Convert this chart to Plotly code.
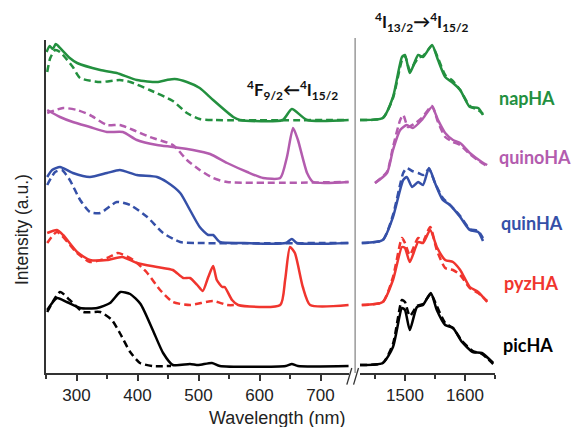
import plotly.graph_objects as go

# ---------------- data (intensity above each trace's own baseline, a.u.) -------------
series_names = ["picHA", "pyzHA", "quinHA", "quinoHA", "napHA"]
series_colors = ["#000000", "#f0352e", "#3550a8", "#b35cae", "#23903f"]
offsets = [7, 68, 130, 191, 253]

# visible-range excitation spectra (solid) and absorption (dashed)
nap_vis_wl = [251, 256, 261, 266, 270, 289, 301, 339, 366, 399, 432, 448, 461, 481, 502, 524, 557, 568, 638, 653, 678, 746]
nap_vis_I = [68, 74, 71, 76, 74, 62, 57, 50, 47, 40, 38, 40, 41, 38, 32, 20, 3, 0, 0, 11, 0, 0]
nap_vis_d_wl = [252, 257, 265, 273, 294, 306, 339, 371, 388, 420, 458, 481, 502, 527, 746]
nap_vis_d_I = [48, 62, 70, 68, 53, 42, 38, 40, 38, 30, 19, 7, 1, 0, 0]

quino_vis_wl = [252, 273, 294, 322, 350, 376, 399, 432, 458, 491, 519, 547, 580, 606, 634, 645, 655, 663, 678, 688, 746]
quino_vis_I = [72, 65, 60, 55, 50, 50, 42, 37, 35, 32, 28, 19, 10, 4, 4, 25, 54, 42, 9, 0, 0]
quino_vis_d_wl = [252, 278, 301, 322, 350, 371, 393, 420, 458, 481, 502, 524, 547, 746]
quino_vis_d_I = [69, 74, 72, 67, 57, 57, 52, 45, 37, 22, 12, 4, 0, 0]

quin_vis_wl = [252, 260, 273, 294, 322, 350, 371, 399, 432, 448, 470, 486, 502, 516, 524, 535, 568, 643, 653, 661, 746]
quin_vis_I = [66, 73, 76, 70, 66, 70, 73, 68, 66, 61, 50, 33, 16, 8, 8, 1, 0, 0, 4, 0, 0]
quin_vis_d_wl = [252, 265, 276, 289, 306, 322, 339, 366, 388, 416, 442, 470, 498, 746]
quin_vis_d_I = [58, 71, 73, 63, 43, 31, 30, 41, 38, 26, 10, 1, 0, 0]

pyz_vis_wl = [252, 268, 278, 301, 322, 350, 375, 399, 432, 458, 475, 486, 498, 507, 516, 524, 530, 539, 543, 555, 565, 634, 642, 650, 658, 671, 683, 746]
pyz_vis_I = [72, 75, 70, 53, 45, 45, 48, 42, 38, 35, 27, 27, 20, 14, 28, 39, 25, 18, 18, 5, 0, 0, 25, 58, 52, 18, 0, 0]
pyz_vis_d_wl = [252, 268, 301, 322, 350, 368, 393, 416, 437, 458, 486, 524, 547, 562]
pyz_vis_d_I = [62, 73, 52, 43, 47, 52, 45, 32, 15, 3, 0, 4, 0, 0]

pic_vis_wl = [252, 268, 284, 306, 334, 355, 372, 388, 405, 425, 442, 458, 486, 500, 522, 535, 643, 653, 663, 746]
pic_vis_I = [56, 68, 64, 58, 58, 63, 74, 72, 62, 36, 13, 1, 2, 1, 3, 0, 0, 2, 0, 0]
pic_vis_d_wl = [252, 273, 289, 311, 339, 358, 371, 388, 404, 425, 455]
pic_vis_d_I = [54, 74, 66, 54, 54, 46, 33, 14, 3, 0, 0]

# NIR emission 4I13/2 -> 4I15/2 (solid and dashed)
nap_nir_wl = [1425, 1463, 1480, 1495, 1500, 1508, 1522, 1530, 1545, 1555, 1567, 1578, 1592, 1608, 1622, 1630]
nap_nir_I = [0, 2, 23, 63, 65, 47, 65, 63, 75, 60, 43, 38, 30, 13, 12, 5]
nap_nir_d_I = [0, 2, 22, 60, 64, 50, 62, 64, 74, 62, 45, 40, 30, 14, 10, 6]

quino_nir_wl = [1450, 1470, 1480, 1492, 1503, 1513, 1528, 1545, 1555, 1567, 1580, 1592, 1608, 1628, 1637]
quino_nir_I = [-1, 9, 32, 52, 57, 54, 62, 75, 62, 49, 42, 39, 29, 20, 17]
quino_nir_d_wl = [1450, 1470, 1480, 1492, 1497, 1505, 1515, 1528, 1545, 1555, 1567, 1580, 1592, 1608, 1628, 1637]
quino_nir_d_I = [-1, 10, 35, 62, 67, 55, 58, 64, 76, 60, 45, 40, 37, 28, 19, 16]

quin_nir_wl = [1428, 1463, 1480, 1497, 1503, 1512, 1522, 1530, 1540, 1550, 1563, 1575, 1592, 1608, 1622, 1630]
quin_nir_I = [0, 3, 26, 63, 66, 56, 61, 58, 75, 60, 43, 38, 26, 13, 11, 2]
quin_nir_d_I = [0, 3, 28, 70, 75, 72, 70, 68, 74, 60, 45, 38, 27, 14, 12, 5]

pyz_nir_wl = [1428, 1463, 1480, 1495, 1500, 1508, 1522, 1530, 1542, 1553, 1567, 1580, 1592, 1608, 1622, 1637]
pyz_nir_I = [0, 3, 25, 58, 57, 43, 63, 62, 75, 58, 45, 43, 35, 18, 13, 3]
pyz_nir_d_I = [0, 3, 28, 67, 62, 50, 67, 64, 78, 55, 37, 35, 30, 17, 12, 4]

pic_nir_wl = [1425, 1463, 1480, 1495, 1500, 1508, 1520, 1530, 1543, 1553, 1567, 1580, 1595, 1613, 1628, 1647]
pic_nir_I = [1, 3, 19, 58, 56, 36, 59, 61, 73, 56, 41, 38, 24, 14, 13, 3]
pic_nir_d_I = [1, 3, 22, 66, 64, 50, 60, 62, 72, 60, 43, 38, 25, 15, 12, 2]

vis_ticks = [300, 400, 500, 600, 700]
nir_ticks = [1500, 1600]

vis_solid = [(pic_vis_wl, pic_vis_I), (pyz_vis_wl, pyz_vis_I), (quin_vis_wl, quin_vis_I),
             (quino_vis_wl, quino_vis_I), (nap_vis_wl, nap_vis_I)]
vis_dash = [(pic_vis_d_wl, pic_vis_d_I), (pyz_vis_d_wl, pyz_vis_d_I), (quin_vis_d_wl, quin_vis_d_I),
            (quino_vis_d_wl, quino_vis_d_I), (nap_vis_d_wl, nap_vis_d_I)]
nir_solid = [(pic_nir_wl, pic_nir_I), (pyz_nir_wl, pyz_nir_I), (quin_nir_wl, quin_nir_I),
             (quino_nir_wl, quino_nir_I), (nap_nir_wl, nap_nir_I)]
nir_dash = [(pic_nir_wl, pic_nir_d_I), (pyz_nir_wl, pyz_nir_d_I), (quin_nir_wl, quin_nir_d_I),
            (quino_nir_d_wl, quino_nir_d_I), (nap_nir_wl, nap_nir_d_I)]

fig = go.Figure()
LW = 2.5
for i, name in enumerate(series_names):
    c = series_colors[i]
    off = offsets[i]
    for (wl, I), dash, xa in [(vis_dash[i], "7px,4px", "x"), (vis_solid[i], "solid", "x"),
                              (nir_dash[i], "7px,4px", "x2"), (nir_solid[i], "solid", "x2")]:
        fig.add_trace(go.Scatter(
            x=wl, y=[v + off for v in I], xaxis=xa, yaxis="y", mode="lines",
            line=dict(color=c, width=LW, dash=dash, shape="spline", smoothing=0.6),
            showlegend=False, hoverinfo="skip"))

sans = "Liberation Sans, Arial, sans-serif"
tick_font = dict(family=sans, size=17, color="#222")
axis_common = dict(showline=True, linecolor="#333", linewidth=1.5, ticks="outside",
                   ticklen=6, tickwidth=1.5, tickcolor="#333", showgrid=False, zeroline=False,
                   tickfont=tick_font, minor=dict(dtick=50, ticks="outside", ticklen=4,
                                                   tickwidth=1.5, tickcolor="#333"))
fig.update_layout(
    width=573, height=427,
    margin=dict(l=46, r=78, t=40, b=54),
    paper_bgcolor="white", plot_bgcolor="white",
    xaxis=dict(domain=[0, 0.6748], range=[250, 746.7], tickvals=vis_ticks, anchor="y", **axis_common),
    xaxis2=dict(domain=[0.6993, 1], range=[1425, 1650], tickvals=nir_ticks, anchor="y", **axis_common),
    yaxis=dict(range=[0, 333], showline=True, linecolor="#333", linewidth=1.5, showticklabels=False,
               ticks="", showgrid=False, zeroline=False),
)

# axis break marks and separator line
fig.add_shape(type="line", xref="paper", yref="paper", x0=0.6885, x1=0.6885, y0=0, y1=1.006,
              line=dict(color="#999", width=1.5))
fig.add_shape(type="line", xref="paper", yref="paper", x0=0.670, x1=0.681, y0=-0.035, y1=0.015,
              line=dict(color="#333", width=1.3))
fig.add_shape(type="line", xref="paper", yref="paper", x0=0.685, x1=0.696, y0=-0.035, y1=0.015,
              line=dict(color="#333", width=1.3))


def px_ann(px, py, text, font, angle=0):
    fig.add_annotation(x=(px - 46) / 449, y=(373 - py) / 333, xref="paper", yref="paper",
                       text=text, showarrow=False, font=font, textangle=angle,
                       xanchor="center", yanchor="middle")


lab_font = "Lato, 'Noto Sans', sans-serif"
label_xy = [(528, 345), (531, 283), (532, 223), (535, 157), (527, 98)]
for i, name in enumerate(series_names):
    px, py = label_xy[i]
    px_ann(px, py, "<b>%s</b>" % name, dict(family=lab_font, size=18, color=series_colors[i]))

px_ann(292, 90, "<b><sup>4</sup>F<sub>9/2</sub>\u2190<sup>4</sup>I<sub>15/2</sub></b>",
       dict(family=lab_font, size=17, color="#111"))
px_ann(421, 22, "<b><sup>4</sup>I<sub>13/2</sub>\u2192<sup>4</sup>I<sub>15/2</sub></b>",
       dict(family=lab_font, size=17, color="#111"))
px_ann(277, 418, "Wavelength (nm)", dict(family=sans, size=18, color="#222"))
px_ann(22, 230, "Intensity (a.u.)", dict(family=sans, size=17.5, color="#222"), angle=-90)

fig.write_html("out.html", post_script="document.body.style.margin='0';",
               config={"displayModeBar": False})
